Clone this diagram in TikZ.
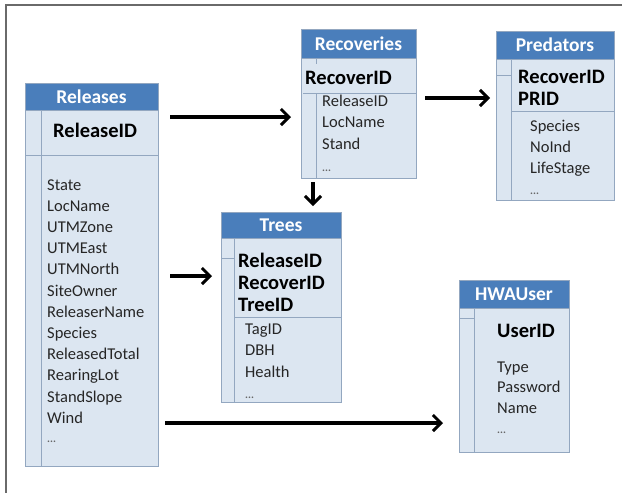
\documentclass[tikz,border=0pt]{standalone}
\usepackage{fontspec}
\setmainfont{Carlito}
\usetikzlibrary{arrows.meta,calc}
\definecolor{hdr}{HTML}{4A7EBB}
\definecolor{bodyc}{HTML}{DCE6F1}
\definecolor{edgec}{HTML}{93A7C0}
\definecolor{txtc}{HTML}{262626}
\definecolor{framec}{HTML}{6A6A6A}
\tikzset{
  tbody/.style={draw=edgec, fill=bodyc, line width=1pt, anchor=north west, inner sep=0pt, outer sep=0pt},
  thead/.style={draw=edgec, fill=hdr, line width=1pt, anchor=north west, inner sep=0pt, outer sep=0pt},
  htext/.style={text=white, font=\fontsize{19.5}{21}\bfseries\selectfont, inner sep=0pt},
  keyt/.style={text=black, font=\fontsize{20.5}{22}\bfseries\selectfont, inner sep=0pt, anchor=west, text height=14pt, text depth=4pt},
  fld/.style={text=txtc, font=\fontsize{16.5}{18}\selectfont, inner sep=0pt, anchor=west, text height=11.5pt, text depth=3.5pt},
  dotsl/.style={text=txtc!70, font=\fontsize{11}{12}\bfseries\selectfont, inner sep=0pt, anchor=west, text height=11.5pt, text depth=3.5pt},
  sepl/.style={draw=edgec, line width=1pt},
  arr/.style={draw=black, line width=3.4pt, -{Straight Barb[length=8pt,width=16pt,line width=3pt]}},
}
\begin{document}
\begin{tikzpicture}[x=1pt,y=-1pt]
\useasboundingbox (0,0) rectangle (622,493);
\fill[white] (0,0) rectangle (622,493);
\draw[framec, line width=2pt] (6,493) -- (6,5) -- (622,5);

% ---------------- Releases
\node[tbody, minimum width=133pt, minimum height=383pt] (rel) at (25,83) {};
\node[thead, minimum width=133pt, minimum height=27pt] (relh) at (25,83) {};
\node[htext] (relt) at (relh.center) {Releases};
\draw[sepl] (41,110) -- (41,466);
\draw[sepl] (25,155) -- (158,155);
\node[keyt] (relk) at (53,132) {ReleaseID};
\foreach \t [count=\i] in {State,LocName,UTMZone,UTMEast,UTMNorth,SiteOwner,ReleaserName,Species,ReleasedTotal,RearingLot,StandSlope,Wind}
  \node[fld] (rel-\i) at (47,{186+21.2*(\i-1)}) {\t};
\node[dotsl] (rel-e) at (47,438) {...};

% ---------------- Recoveries
\node[tbody, minimum width=115pt, minimum height=149pt] (rec) at (301,29) {};
\node[thead, minimum width=115pt, minimum height=29pt] (rech) at (301,29) {};
\node[htext] (rect) at (rech.center) {Recoveries};
\draw[sepl] (316,58) -- (316,64);
\draw[sepl] (316,93) -- (316,178);
\draw[sepl] (303,93) -- (416,93);
\node[keyt] (reck) at (305,79) {RecoverID};
\foreach \t [count=\i] in {ReleaseID,LocName,Stand}
  \node[fld] (rec-\i) at (322,{102+21.5*(\i-1)}) {\t};
\node[dotsl] (rec-e) at (322,167) {...};

% ---------------- Predators
\node[tbody, minimum width=118pt, minimum height=169pt] (pred) at (496,31) {};
\node[thead, minimum width=118pt, minimum height=28pt] (predh) at (496,31) {};
\node[htext] (predt) at (predh.center) {Predators};
\draw[sepl] (511,59) -- (511,200);
\draw[sepl] (496,75) -- (511,75);
\draw[sepl] (511,111) -- (614,111);
\node[keyt] (predk1) at (518,78) {RecoverID};
\node[keyt] (predk2) at (518,100) {PRID};
\foreach \t [count=\i] in {Species,NoInd,LifeStage}
  \node[fld] (pred-\i) at (530,{127+21*(\i-1)}) {\t};
\node[dotsl] (pred-e) at (530,190) {...};

% ---------------- Trees
\node[tbody, minimum width=120pt, minimum height=190pt] (tree) at (221,212) {};
\node[thead, minimum width=120pt, minimum height=26pt] (treeh) at (221,212) {};
\node[htext] (treet) at (treeh.center) {Trees};
\draw[sepl] (234,238) -- (234,402);
\draw[sepl] (221,258) -- (234,258);
\draw[sepl] (234,317) -- (341,317);
\foreach \t [count=\i] in {ReleaseID,RecoverID,TreeID}
  \node[keyt] (treek-\i) at (238,{262+22*(\i-1)}) {\t};
\foreach \t [count=\i] in {TagID,DBH,Health}
  \node[fld] (tree-\i) at (245,{330+21.5*(\i-1)}) {\t};
\node[dotsl] (tree-e) at (245,394) {...};

% ---------------- HWAUser
\node[tbody, minimum width=110pt, minimum height=172pt] (hwa) at (459,280) {};
\node[thead, minimum width=110pt, minimum height=28pt] (hwah) at (459,280) {};
\node[htext] (hwat) at (hwah.center) {HWAUser};
\draw[sepl] (474,308) -- (474,452);
\draw[sepl] (459,318) -- (474,318);
\node[keyt] (hwak) at (497,332) {UserID};
\foreach \t [count=\i] in {Type,Password,Name}
  \node[fld] (hwa-\i) at (497,{368+20.5*(\i-1)}) {\t};
\node[dotsl] (hwa-e) at (497,429) {...};

% ---------------- connectors
\draw[arr] ($(rel.north east)+(12,34)$) -- ($(rec.north west)+(-10,88)$);
\draw[arr] ($(rel.north east)+(12,193)$) -- ($(tree.north west)+(-9,64)$);
\draw[arr] ($(rel.north east)+(7,340)$) -- ($(hwa.north west)+(-16,143)$);
\draw[arr] ($(rec.north east)+(9,69)$) -- ($(pred.north west)+(-6,67)$);
\draw[arr] ($(rec.south west)+(12,4)$) -- ($(tree.north west)+(92,-6)$);
\end{tikzpicture}
\end{document}
